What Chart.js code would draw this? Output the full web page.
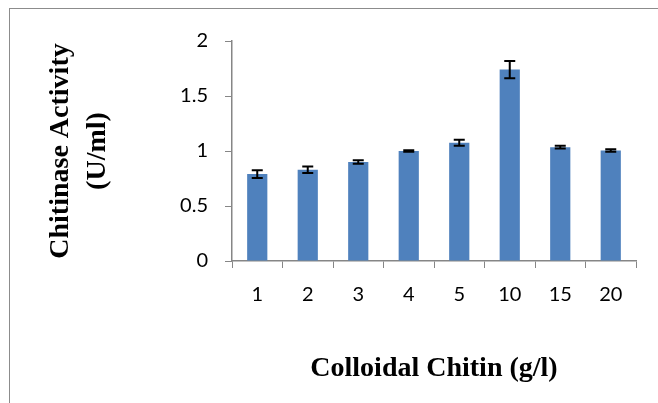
<!DOCTYPE html>
<html lang="en">
<head>
    <meta charset="UTF-8">
    <title>Chitinase Activity</title>
    <script src="https://cdn.jsdelivr.net/npm/chart.js"></script>
    <style>
        body { margin: 0; background: #fff; }
    </style>
</head>
<body>
<canvas id="chitinaseChart" width="658" height="403"></canvas>
<script>
    const concentrations = ['1', '2', '3', '4', '5', '10', '15', '20'];
    const activity = [0.79, 0.83, 0.90, 1.00, 1.075, 1.74, 1.035, 1.005];
    const errors = [0.035, 0.03, 0.017, 0.006, 0.028, 0.078, 0.013, 0.012];
    const yTicks = [0, 0.5, 1, 1.5, 2];

    const axisGray = '#868686';

    // error bars on top of each bar
    const errorBars = {
        id: 'errorBars',
        afterDatasetsDraw(chart) {
            const ctx = chart.ctx;
            const meta = chart.getDatasetMeta(0);
            const y = chart.scales.y;
            ctx.save();
            ctx.strokeStyle = '#000';
            ctx.lineWidth = 2;
            meta.data.forEach((bar, i) => {
                const top = y.getPixelForValue(activity[i] + errors[i]);
                const bottom = y.getPixelForValue(activity[i] - errors[i]);
                ctx.beginPath();
                ctx.moveTo(bar.x, top);
                ctx.lineTo(bar.x, bottom);
                ctx.moveTo(bar.x - 5.5, top);
                ctx.lineTo(bar.x + 5.5, top);
                ctx.moveTo(bar.x - 5.5, bottom);
                ctx.lineTo(bar.x + 5.5, bottom);
                ctx.stroke();
            });
            ctx.restore();
        }
    };

    // grey frame around the chart object
    const frame = {
        id: 'frame',
        beforeDraw(chart) {
            const ctx = chart.ctx;
            ctx.save();
            ctx.strokeStyle = '#8c8c8c';
            ctx.lineWidth = 1;
            ctx.strokeRect(9.5, 8.5, 700, 500);
            ctx.restore();
        }
    };

    const ctx = document.getElementById('chitinaseChart').getContext('2d');
    new Chart(ctx, {
        type: 'bar',
        data: {
            labels: concentrations,
            datasets: [{
                data: activity,
                backgroundColor: '#4F81BD',
                borderWidth: 0,
                barPercentage: 1,
                categoryPercentage: 0.4
            }]
        },
        options: {
            responsive: false,
            animation: false,
            layout: { padding: { top: 41, right: 22, left: 0, bottom: 0 } },
            plugins: {
                legend: { display: false },
                tooltip: { enabled: false }
            },
            scales: {
                x: {
                    grid: { drawOnChartArea: false, drawTicks: true, tickLength: 7, color: axisGray, offset: true },
                    border: { color: axisGray, width: 1.5 },
                    ticks: { color: '#000', padding: 15, font: { family: 'Lato', size: 20 } },
                    title: {
                        display: true,
                        text: 'Colloidal Chitin (g/l)',
                        color: '#000',
                        font: { family: 'Liberation Serif', size: 28, weight: 'bold', lineHeight: 1.2 },
                        padding: { top: 0, bottom: 17 }
                    },
                    afterFit(scale) { scale.height = 142; }
                },
                y: {
                    min: 0,
                    max: 2,
                    afterBuildTicks(scale) { scale.ticks = yTicks.map(v => ({ value: v })); },
                    grid: { drawOnChartArea: false, drawTicks: true, tickLength: 7, color: axisGray },
                    border: { color: axisGray, width: 1.5 },
                    ticks: { color: '#000', padding: 17, font: { family: 'Lato', size: 20 }, callback: v => String(v) },
                    title: {
                        display: true,
                        text: ['Chitinase Activity', '(U/ml)'],
                        color: '#000',
                        font: { family: 'Liberation Serif', size: 28, weight: 'bold', lineHeight: 1.32 },
                        padding: { top: 42, bottom: 0 }
                    },
                    afterFit(scale) { scale.width = 232; }
                }
            }
        },
        plugins: [frame, errorBars]
    });
</script>
</body>
</html>
